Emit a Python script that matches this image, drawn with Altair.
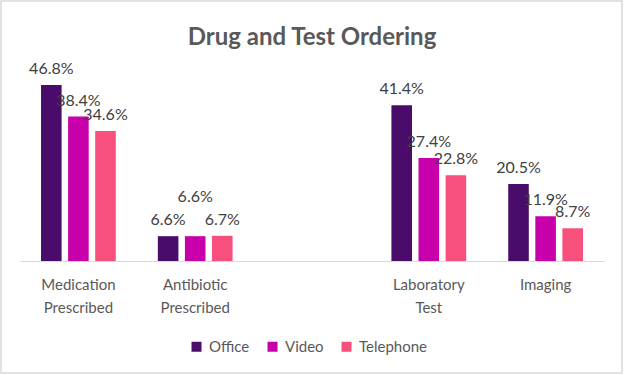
import altair as alt
import pandas as pd

categories = ["Medication|Prescribed", "Antibiotic|Prescribed", " ", "Laboratory|Test", "Imaging"]
series = ["Office", "Video", "Telephone"]
office = [46.8, 6.6, 41.4, 20.5]
video = [38.4, 6.6, 27.4, 11.9]
telephone = [34.6, 6.7, 22.8, 8.7]
data_cats = ["Medication|Prescribed", "Antibiotic|Prescribed", "Laboratory|Test", "Imaging"]
colors = ["#4A0C6B", "#C700AB", "#F7507D"]

rows = []
for i, c in enumerate(data_cats):
    for s, vals in zip(series, [office, video, telephone]):
        rows.append({"category": c, "series": s, "value": vals[i]})
df = pd.DataFrame(rows)

FONT = "Lato"
GREY = "#595959"

base = alt.Chart(df).transform_calculate(
    label="format(datum.value, '.1f') + '%'"
)

x = alt.X("category:N", sort=categories,
          scale=alt.Scale(domain=categories, paddingInner=0.36, paddingOuter=0.18),
          axis=alt.Axis(title=None, labelExpr="split(datum.label, '|')",
                        labelAngle=0, labelFontSize=15, labelColor=GREY, labelFont=FONT,
                        labelPadding=16, labelLineHeight=23, ticks=False,
                        domainColor="#D9D9D9", domainWidth=1, labelBaseline="top"))
xo = alt.XOffset("series:N", sort=series, scale=alt.Scale(paddingInner=0.24, paddingOuter=0))
y = alt.Y("value:Q", scale=alt.Scale(domain=[0, 50], nice=False), axis=None)

bars = base.mark_bar().encode(
    x=x, xOffset=xo, y=y,
    color=alt.Color("series:N", sort=series,
                    scale=alt.Scale(domain=series, range=colors),
                    legend=alt.Legend(title=None, orient="none", direction="horizontal",
                                      legendX=169, legendY=266, symbolType="square",
                                      symbolSize=100, symbolStrokeWidth=0,
                                      labelFontSize=15, labelColor=GREY, labelFont=FONT,
                                      columnPadding=15, labelOffset=5))
)

is_moved = "datum.category == 'Antibiotic|Prescribed' && datum.series == 'Video'"

labels = base.transform_filter("!(" + is_moved + ")").mark_text(
    baseline="alphabetic", dy=-11, fontSize=16, color="#404040", font=FONT
).encode(x=x, xOffset=xo, y=y, text="label:N")

labels_moved = base.transform_filter(is_moved).mark_text(
    baseline="alphabetic", dy=-34, fontSize=16, color="#404040", font=FONT
).encode(x=x, xOffset=xo, y=y, text="label:N")

border = alt.Chart(pd.DataFrame({"a": [0]})).mark_rect(
    fillOpacity=0, stroke="#D9D9D9", strokeWidth=1.5
).encode(x=alt.value(-19), x2=alt.value(602), y=alt.value(-72), y2=alt.value(300))

chart = alt.layer(bars, labels, labels_moved, border).properties(
    width=584, height=188,
    title=alt.Title("Drug and Test Ordering", fontSize=24, fontWeight="bold",
                    color=GREY, font=FONT, anchor="middle", offset=-50),
    padding={"left": 20, "top": 73, "right": 20, "bottom": 114},
    autosize=alt.AutoSizeParams(type="none"),
    background="white",
).configure_view(stroke=None)

chart.save("out.html", embed_options={"renderer": "svg", "actions": False})
